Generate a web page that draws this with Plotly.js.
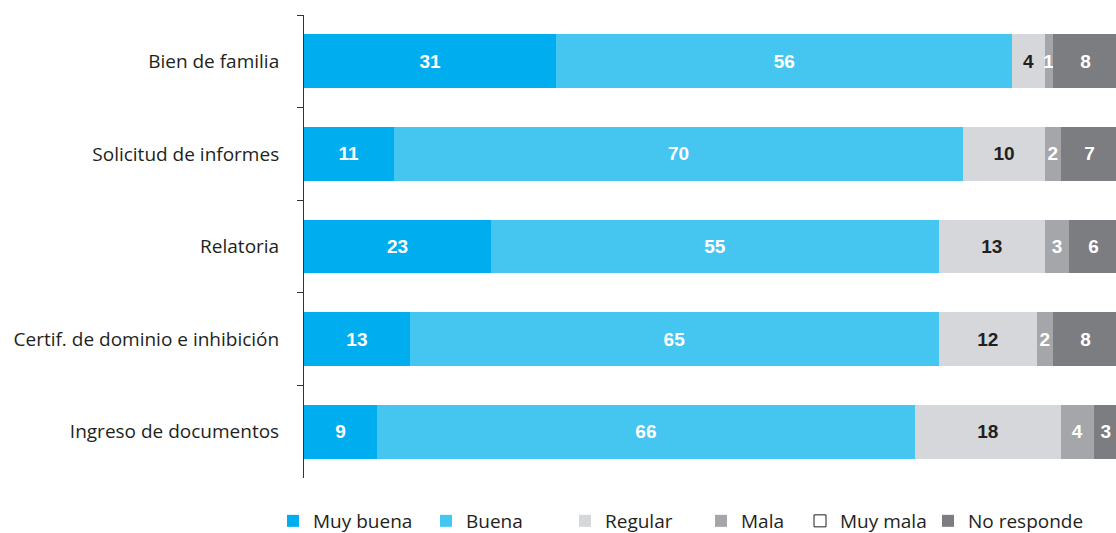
<!DOCTYPE html>
<html><head><meta charset="utf-8">
<script src="https://cdn.plot.ly/plotly-3.0.1.min.js"></script>
<style>html,body{margin:0;padding:0;background:#fff;overflow:hidden}</style>
</head><body>
<div style="width:1116px;height:533px;overflow:hidden">
<div id="chart" style="width:1118px;height:533px"></div>
</div>
<script>
const categories = ["Bien de familia","Solicitud de informes","Relatoria","Certif. de dominio e inhibición","Ingreso de documentos"];
const muyBuena   = [31, 11, 23, 13, 9];
const buena      = [56, 70, 55, 65, 66];
const regular    = [4, 10, 13, 12, 18];
const mala       = [1, 2, 3, 2, 4];
const muyMala    = [null, null, null, null, null];
const noResponde = [8, 7, 6, 8, 3];

const seriesNames  = ["Muy buena","Buena","Regular","Mala","Muy mala","No responde"];
const seriesValues = [muyBuena, buena, regular, mala, muyMala, noResponde];
const colors    = ["#00aeef","#45c6f1","#d5d7da","#a4a6a9","#ffffff","#7c7d80"];
const textColor = ["#ffffff","#ffffff","#231f20","#ffffff","#ffffff","#ffffff"];
const legendIds = ["legend","legend2","legend3","legend4","legend5","legend6"];
const legendLeftPx = [273, 426, 565, 701, 800, 928];

const W = 1118, H = 533;

const traces = seriesNames.map((name, i) => ({
  type: "bar",
  orientation: "h",
  name: name,
  legend: legendIds[i],
  y: categories,
  x: seriesValues[i],
  text: seriesValues[i].map(v => v == null ? "" : String(v)),
  textposition: "inside",
  insidetextanchor: "middle",
  textfont: {family: "Liberation Sans, Arial, sans-serif", size: 19, color: textColor[i], weight: "bold"},
  width: 0.58,
  marker: {color: colors[i], line: {color: i === 4 ? "#231f20" : colors[i], width: i === 4 ? 1 : 0}},
  hoverinfo: "none",
  cliponaxis: false
}));

const layout = {
  width: W, height: H,
  margin: {l: 304, r: 0, t: 15, b: 55},
  paper_bgcolor: "#ffffff", plot_bgcolor: "#ffffff",
  barmode: "stack",
  font: {family: "Open Sans, sans-serif", color: "#231f20"},
  uniformtext: {mode: "show", minsize: 19},
  xaxis: {range: [0, 100], showgrid: false, zeroline: false, showline: false, showticklabels: false, ticks: ""},
  yaxis: {
    type: "category", categoryorder: "array", categoryarray: categories,
    range: [4.5, -0.5],
    showline: true, linecolor: "#333333", linewidth: 1,
    ticks: "outside", tickson: "boundaries", ticklen: 6, tickcolor: "#333333", tickwidth: 1,
    showgrid: false, zeroline: false,
    tickfont: {family: "Open Sans, sans-serif", size: 19, color: "#231f20"},
    ticklabelstandoff: 20
  },
  showlegend: true
};

legendIds.forEach((id, i) => {
  layout[id] = {
    orientation: "h",
    xref: "container", yref: "container",
    x: legendLeftPx[i] / W, xanchor: "left",
    y: 1 - 521 / H, yanchor: "middle",
    font: {family: "Open Sans, sans-serif", size: 19, color: "#231f20"},
    itemwidth: 30, itemclick: false, bgcolor: "rgba(0,0,0,0)"
  };
});

Plotly.newPlot("chart", traces, layout, {displayModeBar: false, staticPlot: true});
</script>
</body></html>
